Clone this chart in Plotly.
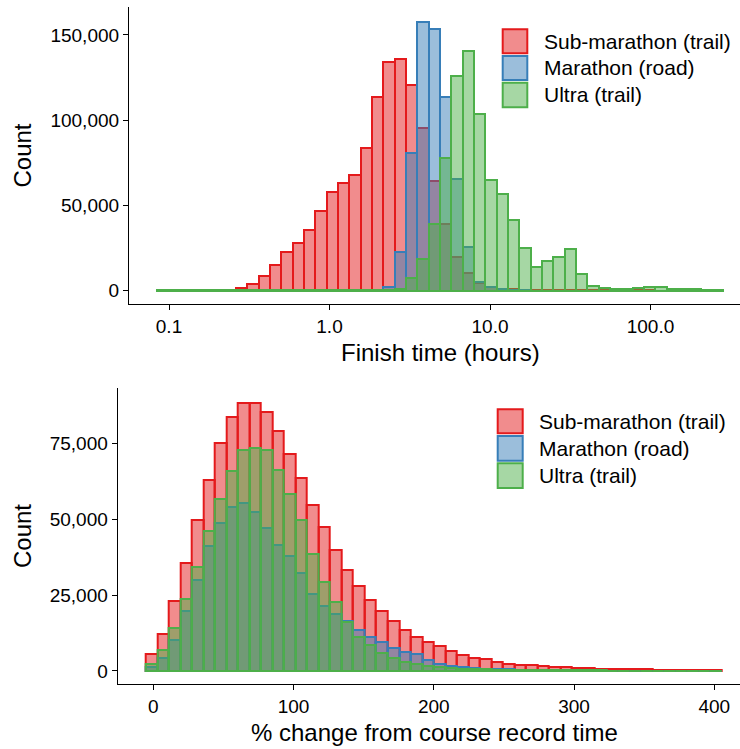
import numpy as np
import plotly.graph_objects as go

# ---------------- data ----------------
series_names = ["Sub-marathon (trail)", "Marathon (road)", "Ultra (trail)"]

# Top panel: finish time histogram (50 log-spaced bins, hours)
finish_hours_min = 0.0838
finish_hours_max = 283.8
finish_bins = 50
finish_tick_vals = [0.1, 1.0, 10.0, 100.0]
finish_tick_text = ["0.1", "1.0", "10.0", "100.0"]

sub_finish_k = [0.4, 0.2, 0.2, 0.3, 0.3, 0.4, 0.7, 1.6, 4.0, 8.7,
                15.2, 22.5, 27.9, 35.5, 46.9, 58.0, 62.9, 68.0, 83.8, 113.5,
                134.0, 136.0, 120.7, 95.5, 64.3, 39.1, 19.9, 10.2, 4.3, 2.0,
                1.2, 0.8, 0.6, 0.5, 0.4, 0.4, 0.3, 0.3, 0.2, 0.2,
                0.2, 0.2, 0.15, 0.15, 0.1, 0.1, 0.1, 0.1, 0.1, 0.1]
mar_finish_k = [0, 0, 0, 0, 0, 0, 0, 0, 0, 0,
                0, 0, 0, 0, 0, 0, 0, 0, 0.1, 0.3,
                2.3, 22.5, 80.9, 157.6, 153.3, 113.7, 65.4, 25.4, 5.3, 2.0,
                0.8, 0.4, 0.2, 0.1, 0, 0, 0, 0, 0, 0,
                0, 0, 0, 0, 0, 0, 0, 0, 0, 0]
ultra_finish_k = [0.2, 0.2, 0.2, 0.2, 0.2, 0.2, 0.2, 0.2, 0.2, 0.2,
                  0.2, 0.2, 0.2, 0.2, 0.2, 0.2, 0.2, 0.2, 0.3, 0.4,
                  0.6, 1.2, 7.2, 18.7, 39.3, 78.1, 125.8, 140.6, 103.9, 64.8,
                  56.6, 41.4, 24.8, 13.7, 17.6, 19.9, 24.5, 9.7, 2.9, 1.8,
                  1.0, 0.8, 1.4, 2.2, 1.9, 1.2, 1.1, 0.9, 0.7, 0.5]

# Bottom panel: % change from course record (50 linear bins)
pct_min = -5.3
pct_max = 405.2
pct_bins = 50
pct_tick_vals = [0, 100, 200, 300, 400]

sub_pct_k = [5.6, 12.2, 23.2, 35.6, 49.7, 63.0, 75.2, 83.6, 88.4, 88.4,
             85.4, 79.0, 71.4, 63.4, 54.6, 47.3, 39.8, 33.3, 28.1, 23.3,
             19.6, 16.6, 13.5, 11.3, 9.6, 8.2, 6.7, 5.3, 4.4, 3.8,
             3.1, 2.4, 2.0, 1.8, 1.5, 1.3, 1.2, 1.0, 0.9, 0.8,
             0.7, 0.6, 0.55, 0.5, 0.45, 0.4, 0.35, 0.3, 0.3, 0.25]
mar_pct_k = [1.4, 4.4, 10.3, 19.8, 29.9, 41.1, 48.6, 54.0, 55.3, 52.2,
             47.2, 41.6, 37.7, 32.2, 25.4, 21.3, 18.6, 16.3, 13.6, 11.3,
             9.4, 7.4, 6.1, 5.6, 3.6, 2.3, 1.6, 1.2, 1.0, 0.8,
             0.6, 0.5, 0.4, 0.35, 0.3, 0.25, 0.2, 0.2, 0.15, 0.15,
             0.1, 0.1, 0.1, 0.1, 0.1, 0.05, 0.05, 0.05, 0.05, 0.05]
ultra_pct_k = [2.4, 6.9, 14.1, 23.6, 34.4, 46.0, 56.6, 65.9, 72.7, 73.5,
               72.7, 66.2, 58.2, 49.7, 38.5, 29.3, 22.7, 16.1, 11.3, 8.4,
               6.0, 4.2, 3.1, 2.3, 1.6, 1.2, 1.0, 0.8, 0.6, 0.5,
               0.4, 0.35, 0.3, 0.3, 0.25, 0.2, 0.2, 0.2, 0.15, 0.15,
               0.1, 0.1, 0.1, 0.1, 0.1, 0.1, 0.1, 0.05, 0.05, 0.05]

# ---------------- styling ----------------
W, H = 740, 749
FONT = "Liberation Sans, Arial, Helvetica, sans-serif"
line_cols = ["#E41A1C", "#377EB8", "#4DAF4A"]
fill_cols = ["rgba(228,26,28,0.5)", "rgba(55,126,184,0.5)", "rgba(77,175,74,0.5)"]

def px_x(p):
    return p / W

def px_y(p):
    return 1 - p / H

fig = go.Figure()

# top panel bars
log_edges = np.linspace(np.log10(finish_hours_min), np.log10(finish_hours_max), finish_bins + 1)
log_centers = (log_edges[:-1] + log_edges[1:]) / 2
log_width = log_edges[1] - log_edges[0]
for name, vals, lc, fc in zip(series_names, [sub_finish_k, mar_finish_k, ultra_finish_k], line_cols, fill_cols):
    fig.add_trace(go.Bar(x=log_centers, y=np.array(vals) * 1000, width=log_width,
                         marker=dict(color=fc, line=dict(color=lc, width=2)),
                         name=name, showlegend=False, xaxis="x", yaxis="y"))

# bottom panel bars
pct_edges = np.linspace(pct_min, pct_max, pct_bins + 1)
pct_centers = (pct_edges[:-1] + pct_edges[1:]) / 2
pct_width = pct_edges[1] - pct_edges[0]
for name, vals, lc, fc in zip(series_names, [sub_pct_k, mar_pct_k, ultra_pct_k], line_cols, fill_cols):
    fig.add_trace(go.Bar(x=pct_centers, y=np.array(vals) * 1000, width=pct_width,
                         marker=dict(color=fc, line=dict(color=lc, width=2)),
                         name=name, showlegend=False, xaxis="x2", yaxis="y2"))

axis_common = dict(showline=True, linecolor="black", linewidth=1.2, ticks="outside",
                   ticklen=5, tickwidth=1.2, tickcolor="black", showgrid=False, zeroline=False,
                   tickfont=dict(family=FONT, size=19, color="black"))

fig.update_layout(
    width=W, height=H, margin=dict(l=0, r=0, t=0, b=0),
    paper_bgcolor="white", plot_bgcolor="white", barmode="overlay", bargap=0,
    xaxis=dict(domain=[px_x(129), 1], anchor="y", range=[-1.2492, 2.5576],
               tickvals=list(np.log10(finish_tick_vals)), ticktext=finish_tick_text, **axis_common),
    yaxis=dict(domain=[px_y(304), px_y(7)], anchor="x", range=[-7800, 166400],
               tickvals=[0, 50000, 100000, 150000], tickformat=",", **axis_common),
    xaxis2=dict(domain=[px_x(117.7), 1], anchor="y2", range=[-25.4, 418.3],
                tickvals=pct_tick_vals, **axis_common),
    yaxis2=dict(domain=[px_y(684.3), px_y(388)], anchor="x2", range=[-4400, 93200],
                tickvals=[0, 25000, 50000, 75000], tickformat=",", **axis_common),
    showlegend=False,
)

# axis titles
ann = []
def add_text(text, x, y, size, angle=0, xanchor="center"):
    ann.append(dict(text=text, x=px_x(x), y=px_y(y), xref="paper", yref="paper",
                    showarrow=False, textangle=angle, xanchor=xanchor, yanchor="middle",
                    font=dict(family=FONT, size=size, color="black")))

add_text("Finish time (hours)", 440, 352, 24)
add_text("Count", 22, 155.5, 24, angle=-90)
add_text("% change from course record time", 434, 732, 24)
add_text("Count", 22, 536, 24, angle=-90)

# legends (drawn manually)
shapes = []
def add_legend(x0, x1, rows, text_x):
    for (y0, y1), name, lc, fc in zip(rows, series_names, line_cols, fill_cols):
        shapes.append(dict(type="rect", xref="paper", yref="paper",
                           x0=px_x(x0), x1=px_x(x1), y0=px_y(y1), y1=px_y(y0),
                           fillcolor=fc, line=dict(color=lc, width=2)))
        add_text(name, text_x, (y0 + y1) / 2, 21, xanchor="left")

add_legend(502.7, 527.3, [(29.3, 53.3), (56.0, 80.0), (82.7, 107.3)], 541.7)
add_legend(497.7, 522.7, [(409.3, 433.3), (436.0, 460.7), (463.3, 488.0)], 536.7)

fig.update_layout(annotations=ann, shapes=shapes)
fig.write_html("out.html")
